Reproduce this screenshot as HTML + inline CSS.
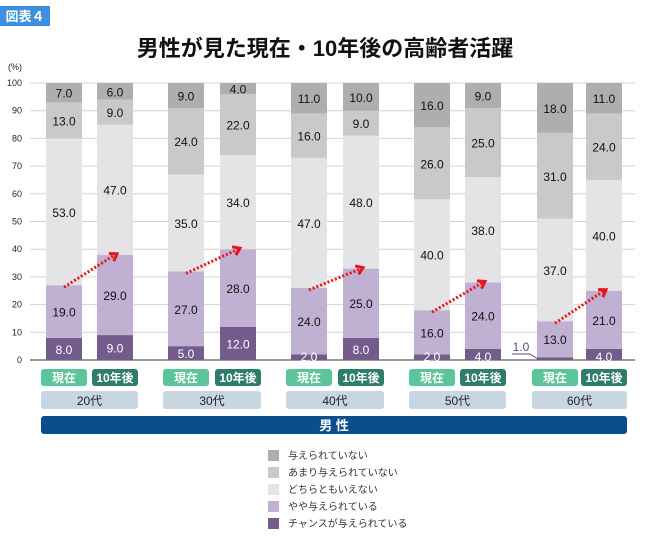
<!DOCTYPE html>
<html><head><meta charset="utf-8"><style>
body{margin:0;background:#fff;font-family:"Liberation Sans","Noto Sans CJK JP",sans-serif;}
</style></head><body>
<svg id="s" width="650" height="542" xmlns="http://www.w3.org/2000/svg" font-family="Liberation Sans, Noto Sans CJK JP, sans-serif">
<rect x="0" y="6" width="50" height="20" fill="#3d8fe0"/>
<text x="25" y="21" fill="#fff" font-size="13" text-anchor="middle" font-weight="bold">図表４</text>
<text x="325" y="56" font-size="22" font-weight="bold" text-anchor="middle" fill="#111">男性が見た現在・10年後の高齢者活躍</text>
<text x="8" y="70" font-size="9" fill="#222">(%)</text>
<g id="grid"></g>
<g id="bars"></g>
<g id="lab"></g>
<rect x="41" y="416" width="586" height="18" rx="3" fill="#0a4f8c"/>
<text x="334" y="430" font-size="13" font-weight="bold" fill="#fff" text-anchor="middle">男 性</text>
<g font-size="10" fill="#333">
<rect x="268" y="450" width="11" height="11" fill="#aeaeae"/><text x="288" y="459">与えられていない</text>
<rect x="268" y="467" width="11" height="11" fill="#c9c9c9"/><text x="288" y="476">あまり与えられていない</text>
<rect x="268" y="484" width="11" height="11" fill="#e4e3e6"/><text x="288" y="493">どちらともいえない</text>
<rect x="268" y="501" width="11" height="11" fill="#c0b0d2"/><text x="288" y="510">やや与えられている</text>
<rect x="268" y="518" width="11" height="11" fill="#735b8c"/><text x="288" y="527">チャンスが与えられている</text>
</g>
<g id="arr"></g>
</svg>
<script>
const NS="http://www.w3.org/2000/svg";
function el(p,t,a,txt){const e=document.createElementNS(NS,t);for(const k in a)e.setAttribute(k,a[k]);if(txt!=null)e.textContent=txt;document.getElementById(p).appendChild(e);return e;}
const Y0=360,S=2.77;
for(let v=0;v<=100;v+=10){const y=Y0-v*S;
 el('grid','line',{x1:30,x2:635,y1:y,y2:y,stroke:v==0?'#999':'#d4d4d4','stroke-width':v==0?2:1});
 el('grid','text',{x:22,y:y+3,'font-size':9,'text-anchor':'end',fill:'#222'},v);}
const xs=[46,97,168,220,291,343,414,465,537,586];
const D=[[8,19,53,13,7],[9,29,47,9,6],[5,27,35,24,9],[12,28,34,22,4],[2,24,47,16,11],[8,25,48,9,10],[2,16,40,26,16],[4,24,38,25,9],[1,13,37,31,18],[4,21,40,24,11]];
const C=['#735b8c','#c0b0d2','#e4e3e6','#c9c9c9','#aeaeae'];
const ages=['20代','30代','40代','50代','60代'];
D.forEach((d,i)=>{let acc=0;const x=xs[i],w=36;
 d.forEach((v,j)=>{const y1=Y0-(acc+v)*S;el('bars','rect',{x:x,y:y1,width:w,height:v*S,fill:C[j]});
  let ty=y1+v*S/2+5;if(j==0&&v<5)ty=Y0+1;
  if(!(v==1))el('lab','text',{x:x+w/2,y:ty,'font-size':12,'text-anchor':'middle',fill:j==0?'#fff':'#111'},v.toFixed(1));
  acc+=v;});
 const now=i%2==0;
 el('lab','rect',{x:x-5,y:369,width:46,height:17,rx:3,fill:now?'#5cc49a':'#2e7d6b'});
 el('lab','text',{x:x+18,y:382,'font-size':12,'text-anchor':'middle',fill:'#fff','font-weight':'bold'},now?'現在':'10年後');
 if(now){const x2=xs[i+1];
  el('lab','rect',{x:x-5,y:391,width:x2+41-(x-5),height:18,rx:3,fill:'#c8d6e2'});
  el('lab','text',{x:(x-5+x2+41)/2,y:405,'font-size':12,'text-anchor':'middle',fill:'#223'},ages[i/2]);
  const ax=x+18, ay=Y0-(d[0]+d[1])*S+2, bx=x2+20, by=Y0-(D[i+1][0]+D[i+1][1])*S-1;
  el('arr','line',{x1:ax,y1:ay,x2:bx-2,y2:by+1,stroke:'#e8141b','stroke-width':3,'stroke-dasharray':'2,2'});
  const ang=Math.atan2(by-ay,bx-ax),L=8;
  const p1=[bx-L*Math.cos(ang-0.6),by-L*Math.sin(ang-0.6)],p2=[bx-L*Math.cos(ang+0.6),by-L*Math.sin(ang+0.6)];
  el('arr','polyline',{points:`${p1} ${bx},${by} ${p2}`,fill:'none',stroke:'#e8141b','stroke-width':3});
 }
});
el('lab','text',{x:521,y:351,'font-size':12,'text-anchor':'middle',fill:'#5a4a80'},'1.0');
el('lab','polyline',{points:'512,354 530,354 538,359',fill:'none',stroke:'#5a4a80','stroke-width':1});
</script>
</body></html>
